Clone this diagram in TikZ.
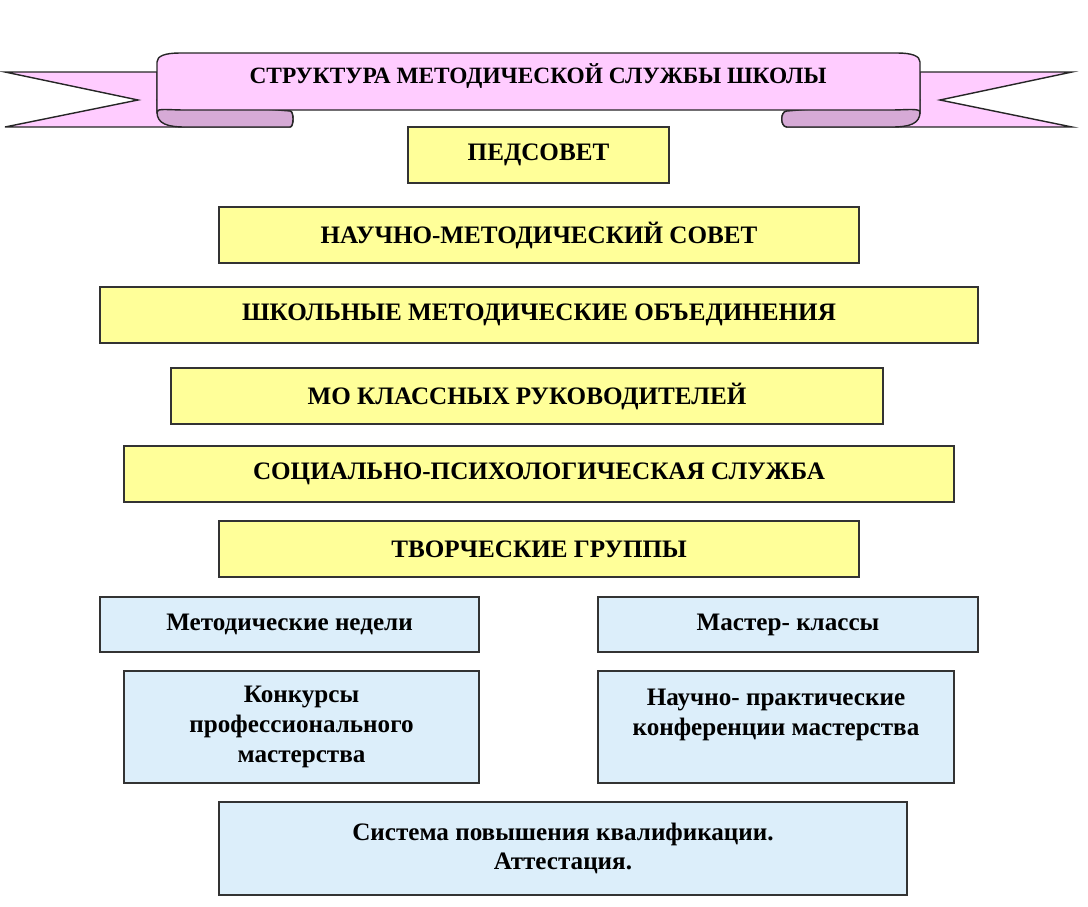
\documentclass[tikz,border=0pt]{standalone}
\usepackage{fontspec}
\setmainfont{Liberation Serif}
\definecolor{boxyellow}{RGB}{255,255,153}
\definecolor{boxblue}{RGB}{220,238,250}
\definecolor{ribbonpink}{RGB}{255,204,255}
\definecolor{ribbonfold}{RGB}{214,170,214}

\begin{document}
\begin{tikzpicture}[x=0.02cm,y=-0.02cm,
    ribbon/.style={draw=black!85, line width=0.8pt, fill=ribbonpink},
    fold/.style={draw=black!85, line width=0.8pt, fill=ribbonfold},
    levelbox/.style={draw=black!80, line width=0.8pt, inner sep=0pt, align=center,
      font=\bfseries\fontsize{14.3}{17}\selectfont}]
  \useasboundingbox (0,0) rectangle (1088,906);

  % ribbon: tails, folds, then the front band
  \filldraw[ribbon] (157,72) -- (5,72) -- (138,100) -- (5,127) -- (290,127)
    .. controls (294,127) and (294,111) .. (290,111) -- (157,100) -- cycle;
  \filldraw[ribbon] (920,72) -- (1072,72) -- (940,100) -- (1072,127) -- (787,127)
    .. controls (780,127) and (780,111) .. (787,111) -- (920,100) -- cycle;
  \filldraw[fold] (157,100) -- (157,112) .. controls (157,124) and (168,127) .. (185,127)
    -- (290,127) .. controls (294,127) and (294,111) .. (290,111) -- cycle;
  \filldraw[fold] (920,100) -- (920,112) .. controls (920,124) and (909,127) .. (892,127)
    -- (787,127) .. controls (780,127) and (780,111) .. (787,111) -- cycle;
  \filldraw[ribbon] (157,112) -- (157,62) .. controls (157,56) and (165,53) .. (180,53)
    -- (897,53) .. controls (912,53) and (920,56) .. (920,62) -- (920,112)
    .. controls (920,108) and (905,110) .. (892,110) -- (185,110)
    .. controls (168,110) and (157,108) .. (157,112) -- cycle;
  \node[font=\bfseries\fontsize{13.3}{16}\selectfont] (title) at (538,76)
    {СТРУКТУРА МЕТОДИЧЕСКОЙ СЛУЖБЫ ШКОЛЫ};

  % levels of the service
  \foreach \xa/\xb/\ya/\yb/\txt [count=\ni] in {
      408/669/127/183/ПЕДСОВЕТ,
      219/859/207/263/НАУЧНО-МЕТОДИЧЕСКИЙ СОВЕТ,
      100/978/287/343/ШКОЛЬНЫЕ МЕТОДИЧЕСКИЕ ОБЪЕДИНЕНИЯ,
      171/883/368/424/МО КЛАССНЫХ РУКОВОДИТЕЛЕЙ,
      124/954/446/502/СОЦИАЛЬНО-ПСИХОЛОГИЧЕСКАЯ СЛУЖБА,
      219/859/521/577/ТВОРЧЕСКИЕ ГРУППЫ}{
    \node[levelbox, fill=boxyellow, minimum width={(\xb-\xa)*0.02cm},
      minimum height={(\yb-\ya)*0.02cm}] (lvl\ni) at ({(\xa+\xb)/2},{(\ya+\yb)/2}) {\txt};
  }

  % forms of work
  \foreach \xa/\xb/\ya/\yb/\txt [count=\ni] in {
      100/479/597/652/Методические недели,
      598/978/597/652/Мастер- классы,
      124/479/671/783/{Конкурсы\\профессионального\\мастерства},
      598/954/671/783/{Научно- практические\\конференции мастерства\\\mbox{}},
      219/907/802/895/{Система повышения квалификации.\\Аттестация.}}{
    \node[levelbox, fill=boxblue, minimum width={(\xb-\xa)*0.02cm},
      minimum height={(\yb-\ya)*0.02cm}] (form\ni) at ({(\xa+\xb)/2},{(\ya+\yb)/2}) {\txt};
  }
\end{tikzpicture}
\end{document}
